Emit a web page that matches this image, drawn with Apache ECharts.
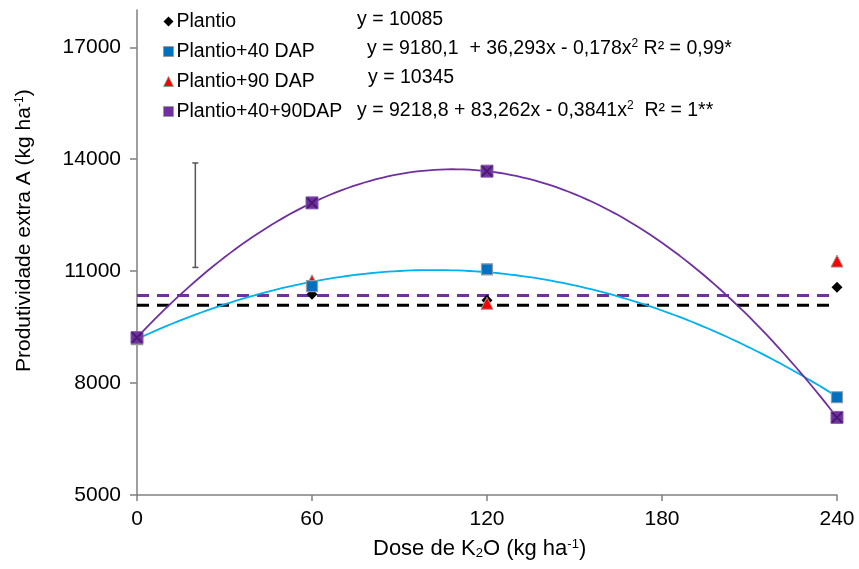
<!DOCTYPE html>
<html>
<head>
<meta charset="utf-8">
<script src="https://cdn.jsdelivr.net/npm/echarts@6/dist/echarts.min.js"></script>
<style>html,body{margin:0;padding:0;background:#fff}#c{width:859px;height:569px}</style>
</head>
<body>
<div id="c"></div>
<script>
// ---- data ----
var doses = [0, 60, 120, 240];
var plantio = [9230, 10380, 10220, 10570];
var plantio40 = [9180, 10600, 11050, 7620];
var plantio90 = [9200, 10740, 10140, 11270];
var plantio4090 = [9219, 12830, 13680, 7080];
var meanPlantio = 10085;
var mean90 = 10345;
var coef40 = [9180.1, 36.293, -0.178];
var coef4090 = [9218.8, 83.262, -0.3841];
var errorBar = [[20, 11100, 13900]];
var xTicks = [0, 60, 120, 180, 240];
var yTicks = [5000, 8000, 11000, 14000, 17000];

function curve(c) {
  var pts = [];
  for (var x = 0; x <= 240; x += 2) pts.push([x, c[0] + c[1] * x + c[2] * x * x]);
  return pts;
}
function hline(v) { return [[0, v], [240, v]]; }

var FONT = 'Liberation Sans, Arial, sans-serif';
var chart = echarts.init(document.getElementById('c'), null, {renderer: 'canvas'});
var xPath = 'path://M0,0L1.2,0L10,8.8L10,10L8.8,10L0,1.2Z M10,0L10,1.2L1.2,10L0,10L0,8.8L8.8,0Z';
var supStyle = {fontSize: 12, fill: '#000', fontFamily: FONT, padding: [0, 0, 9, 0]};

var option = {
  animation: false,
  textStyle: {fontFamily: FONT},
  grid: {left: 137, right: 22, top: 10, bottom: 74},
  legend: {
    orient: 'vertical', left: 158, top: 5,
    itemWidth: 10, itemHeight: 10, itemGap: 7,
    data: [
      {name: 'Plantio', icon: 'diamond', itemStyle: {color: '#000', borderWidth: 0}},
      {name: 'Plantio+40 DAP', icon: 'rect', itemStyle: {color: '#0070C0', borderColor: '#999', borderWidth: 1}},
      {name: 'Plantio+90 DAP', icon: 'triangle', itemStyle: {color: '#FF0000', borderColor: '#999', borderWidth: 1}},
      {name: 'Plantio+40+90DAP', icon: 'rect', itemStyle: {color: '#7030A0', borderColor: '#999', borderWidth: 1}}
    ],
    textStyle: {fontSize: 19.5, color: '#000', fontFamily: FONT, lineHeight: 23, padding: [0, 0, 0, -2]}
  },
  xAxis: {
    type: 'value', min: 0, max: 240, interval: 60,
    axisLine: {lineStyle: {color: '#808080', width: 1.5}},
    axisTick: {show: true, length: 6, lineStyle: {color: '#808080', width: 1.5}},
    splitLine: {show: false},
    axisLabel: {fontSize: 21, color: '#000', margin: 14, fontFamily: FONT}
  },
  yAxis: {
    type: 'value', min: 5000, max: 18000, interval: 3000,
    axisLine: {show: true, lineStyle: {color: '#808080', width: 1.5}},
    axisTick: {show: true, length: 7, customValues: yTicks, lineStyle: {color: '#808080', width: 1.5}},
    splitLine: {show: false},
    axisLabel: {fontSize: 21, color: '#000', margin: 16, customValues: yTicks, fontFamily: FONT,
      formatter: function (v) { return String(v); }}
  },
  graphic: [
    {type: 'text', x: 14, y: 372, rotation: Math.PI / 2,
      style: {
        text: 'Produtividade extra A (kg ha{sup|-1})', fontSize: 21, fill: '#000', fontFamily: FONT,
        rich: {sup: supStyle}
      }
    },
    {type: 'text', left: 373, top: 538,
      style: {
        text: 'Dose de K{sub|2}O (kg ha{sup|-1})', fontSize: 22, fill: '#000', fontFamily: FONT,
        rich: {
          sub: {fontSize: 13, fill: '#000', fontFamily: FONT, padding: [9, 0, 0, 0]},
          sup: {fontSize: 13, fill: '#000', fontFamily: FONT, padding: [0, 0, 9, 0]}
        }
      }
    },
    {type: 'text', left: 357, top: 10, style: {text: 'y = 10085', fontSize: 19.5, fill: '#000', fontFamily: FONT}},
    {type: 'text', left: 367, top: 38,
      style: {text: 'y = 9180,1  + 36,293x - 0,178x{sup|2} R² = 0,99*', fontSize: 19.5, fill: '#000', fontFamily: FONT,
        rich: {sup: supStyle}}},
    {type: 'text', left: 368, top: 68, style: {text: 'y = 10345', fontSize: 19.5, fill: '#000', fontFamily: FONT}},
    {type: 'text', left: 357, top: 100,
      style: {text: 'y = 9218,8 + 83,262x - 0,3841x{sup|2}  R² = 1**', fontSize: 19.5, fill: '#000', fontFamily: FONT,
        rich: {sup: supStyle}}}
  ],
  series: [
    {type: 'line', name: 'trend90', data: hline(mean90), symbol: 'none', z: 2,
      lineStyle: {color: '#7030A0', width: 3, type: [12, 8]}},
    {type: 'line', name: 'trendP', data: hline(meanPlantio), symbol: 'none', z: 2,
      lineStyle: {color: '#000', width: 3, type: [12, 8]}},
    {type: 'line', name: 'trend40', data: curve(coef40), symbol: 'none', smooth: false, z: 2,
      lineStyle: {color: '#00B0F0', width: 1.8}},
    {type: 'line', name: 'trend4090', data: curve(coef4090), symbol: 'none', smooth: false, z: 2,
      lineStyle: {color: '#7030A0', width: 1.8}},
    {type: 'custom', name: 'err', z: 3,
      renderItem: function (params, api) {
        var top = api.coord([api.value(0), api.value(2)]);
        var bot = api.coord([api.value(0), api.value(1)]);
        var s = {stroke: '#555', lineWidth: 1.5};
        return {type: 'group', children: [
          {type: 'line', shape: {x1: top[0], y1: top[1], x2: bot[0], y2: bot[1]}, style: s},
          {type: 'line', shape: {x1: top[0] - 3, y1: top[1], x2: top[0] + 3, y2: top[1]}, style: s},
          {type: 'line', shape: {x1: bot[0] - 3, y1: bot[1], x2: bot[0] + 3, y2: bot[1]}, style: s}
        ]};
      },
      data: errorBar},
    {type: 'scatter', name: 'Plantio', z: 4, symbol: 'diamond', symbolSize: 11,
      itemStyle: {color: '#000', opacity: 1},
      data: doses.map(function (d, i) { return [d, plantio[i]]; })},
    {type: 'scatter', name: 'Plantio+90 DAP', z: 5, symbol: 'triangle', symbolSize: 12,
      itemStyle: {color: '#FF0000', borderColor: '#999', borderWidth: 1, opacity: 1},
      data: doses.map(function (d, i) { return [d, plantio90[i]]; })},
    {type: 'scatter', name: 'Plantio+40 DAP', z: 6, symbol: 'rect', symbolSize: 11,
      itemStyle: {color: '#0070C0', borderColor: '#999', borderWidth: 1.2, opacity: 1},
      data: doses.map(function (d, i) { return [d, plantio40[i]]; })},
    {type: 'scatter', name: 'Plantio+40+90DAP', z: 7, symbol: 'rect', symbolSize: 12,
      itemStyle: {color: '#7030A0', borderColor: '#8a5cb0', borderWidth: 1, opacity: 1},
      data: doses.map(function (d, i) { return [d, plantio4090[i]]; })},
    {type: 'scatter', name: 'x4090', z: 8, symbol: xPath, symbolSize: 11, silent: true,
      itemStyle: {color: '#4a1a70', opacity: 1},
      data: doses.map(function (d, i) { return [d, plantio4090[i]]; })}
  ]
};
chart.setOption(option);
</script>
</body>
</html>
